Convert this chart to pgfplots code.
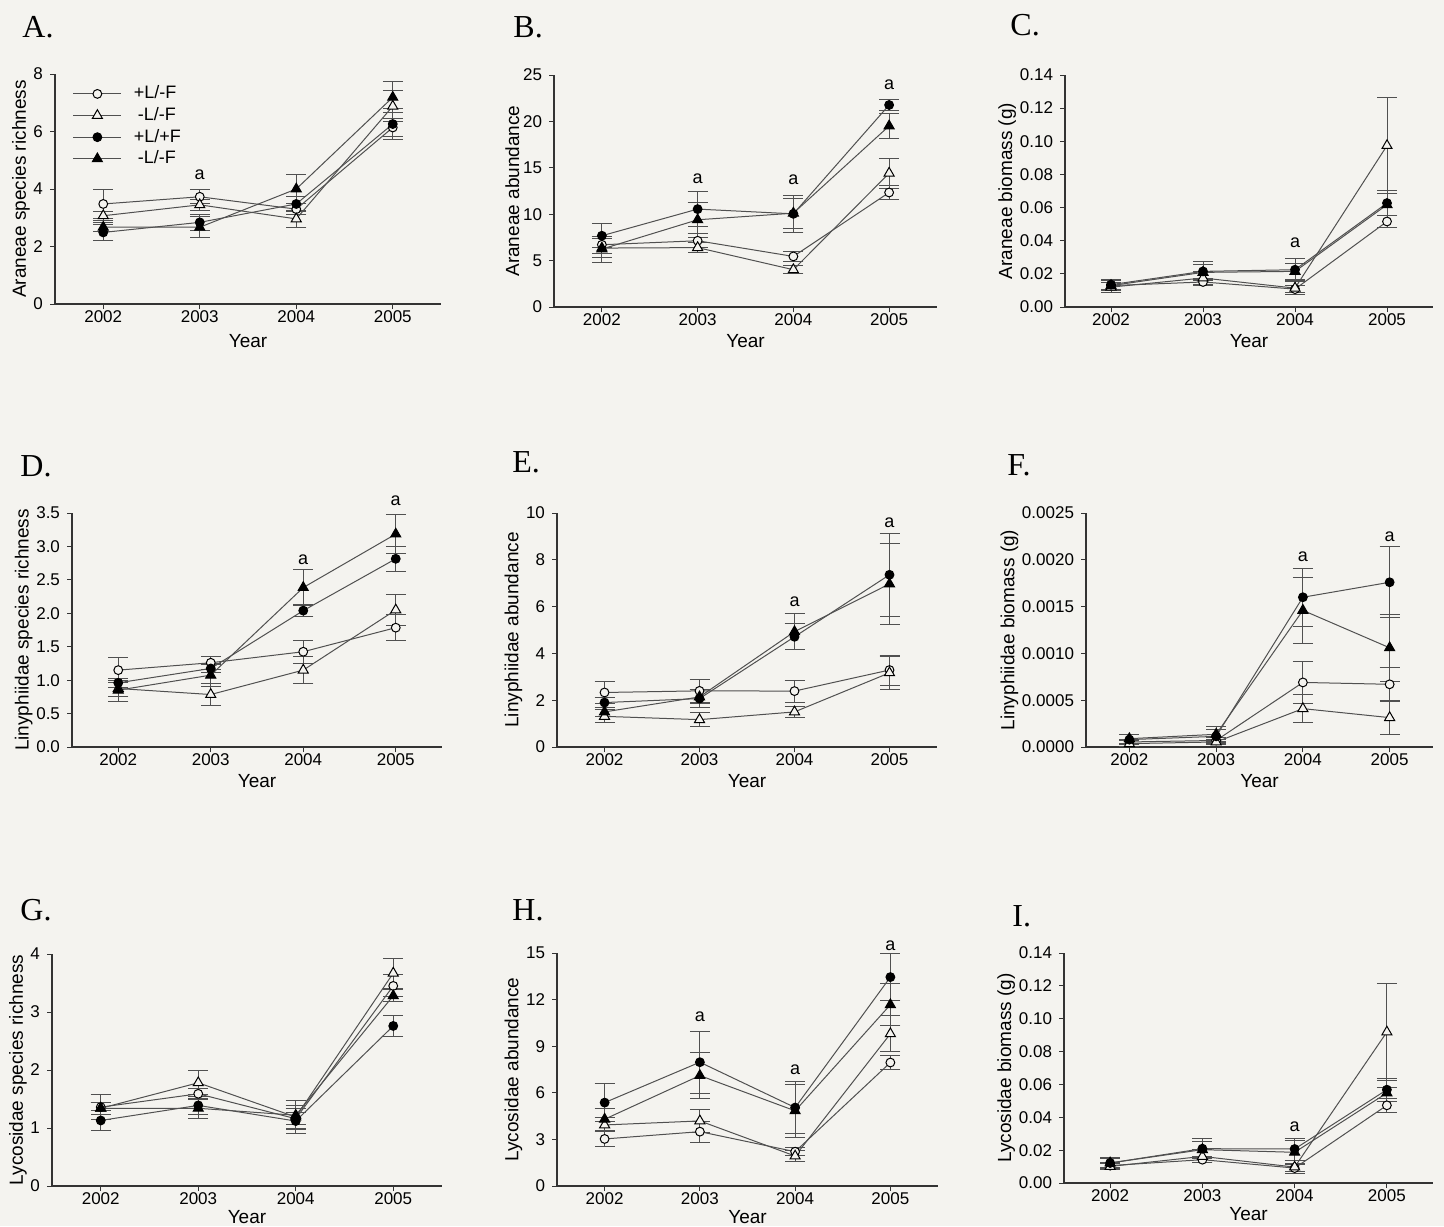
\documentclass[border=0pt]{standalone}
\usepackage{pgfplots}
\pgfplotsset{compat=1.18}
\usepackage{fontspec}
\setmainfont{Liberation Sans}
\newfontfamily\serifpanel{Liberation Serif}
\definecolor{bgc}{RGB}{244,243,239}
\definecolor{linec}{RGB}{80,80,80}
\tikzset{lett/.style={font=\fontsize{9}{10}\selectfont}}
\pgfplotsset{
  panel/.style={
    scale only axis, anchor=south west,
    xmin=2001.5, xmax=2005.5, ymin=0,
    xtick={2002,2003,2004,2005},
    axis x line*=bottom, axis y line*=left,
    axis line style={black!80, line width=0.6pt, -},
    tick align=outside, major tick length=2.5pt,
    tick style={black!80, line width=0.5pt},
    x tick label style={/pgf/number format/1000 sep={}, yshift=2.5pt},
    tick label style={font=\fontsize{8.5}{10}\selectfont},
    label style={font=\fontsize{9.5}{11}\selectfont},
    xlabel={Year},
    xlabel style={at={(axis description cs:0.5,0)}, anchor=center, yshift=-17pt},
    ylabel style={yshift=-5pt},
    /pgf/number format/assume math mode=true,
    scaled y ticks=false,
    clip=false,
    legend image code/.code={\draw[mark repeat=2,mark phase=2] plot coordinates {(0cm,0cm) (0.42cm,0cm) (0.84cm,0cm)};},
  },
  bottomrow/.style={xlabel style={yshift=1.5pt}},
  ebar/.style={line width=0.5pt,
    error bars/y dir=both, error bars/y explicit,
    error bars/error bar style={linec, line width=0.5pt},
    error bars/error mark options={rotate=90, mark size=5pt, linec, line width=0.5pt}},
  s1/.style={ebar, linec, mark=*, mark size=2.2pt, mark options={draw=black, fill=bgc, line width=0.5pt}},
  s2/.style={ebar, linec, mark=triangle*, mark size=2.9pt, mark options={draw=black, fill=bgc, line width=0.5pt}},
  s3/.style={ebar, linec, mark=*, mark size=2.2pt, mark options={draw=black, fill=black}},
  s4/.style={ebar, linec, mark=triangle*, mark size=2.9pt, mark options={draw=black, fill=black}},
}
\begin{document}
\begin{tikzpicture}
\path[fill=bgc] (0,0) rectangle (722pt,-613pt);
% Panel letters
\foreach \l/\x/\y in {A./11pt/-18.5pt, B./256.5pt/-18.5pt, C./505pt/-17.5pt, D./10pt/-238pt, E./256pt/-236pt, F./503.5pt/-237.5pt, G./10pt/-460pt, H./256pt/-460pt, I./506pt/-463pt}
  \node[anchor=base west, inner sep=0pt, font=\serifpanel\fontsize{16}{18}\selectfont] at (\x,\y) {\l};

% A
\begin{axis}[panel, at={(27.5pt,-152pt)}, width=193pt, height=115pt,
  ymax=8, ytick={0,2,4,6,8}, ylabel={Araneae species richness},
  xlabel style={yshift=-1.5pt},
  legend style={draw=none, fill=none, at={(0.03,0.985)}, anchor=north west,
    font=\fontsize{9}{10}\selectfont, row sep=-1.2pt, cells={anchor=west}}]
\addplot[s1] coordinates {(2002,3.48) +- (0,0.5) (2003,3.73) +- (0,0.25) (2004,3.30) +- (0,0.2) (2005,6.14) +- (0,0.3)};
\addlegendentry{\hspace{4pt}+L/-F}
\addplot[s2] coordinates {(2002,3.07) +- (0,0.15) (2003,3.45) +- (0,0.2) (2004,2.96) +- (0,0.3) (2005,6.88) +- (0,0.54)};
\addlegendentry{\hspace{6pt}-L/-F}
\addplot[s3] coordinates {(2002,2.49) +- (0,0.29) (2003,2.84) +- (0,0.27) (2004,3.48) +- (0,0.25) (2005,6.26) +- (0,0.55)};
\addlegendentry{\hspace{4pt}+L/+F}
\addplot[s4] coordinates {(2002,2.67) +- (0,0.15) (2003,2.67) +- (0,0.37) (2004,4.0) +- (0,0.5) (2005,7.19) +- (0,0.54)};
\addlegendentry{\hspace{6pt}-L/-F}
\node[lett] at (axis cs:2003,4.5) {a};
\end{axis}

% B
\begin{axis}[panel, at={(277pt,-153.5pt)}, width=191.5pt, height=116pt,
  ymax=25, ytick={0,5,10,15,20,25}, ylabel={Araneae abundance}]
\addplot[s1] coordinates {(2002,6.71) +- (0,0.9) (2003,7.14) +- (0,0.75) (2004,5.45) +- (0,0.5) (2005,12.34) +- (0,0.8)};
\addplot[s2] coordinates {(2002,6.35) +- (0,1.0) (2003,6.4) +- (0,0.5) (2004,4.02) +- (0,0.43) (2005,14.42) +- (0,1.6)};
\addplot[s3] coordinates {(2002,7.68) +- (0,1.3) (2003,10.55) +- (0,1.9) (2004,10.04) +- (0,2.0) (2005,21.77) +- (0,0.6)};
\addplot[s4] coordinates {(2002,6.24) +- (0,1.4) (2003,9.40) +- (0,1.86) (2004,10.11) +- (0,1.6) (2005,19.51) +- (0,1.3)};
\node[lett] at (axis cs:2003,13.77) {a};
\node[lett] at (axis cs:2004,13.7) {a};
\node[lett] at (axis cs:2005,23.9) {a};
\end{axis}

% C
\begin{axis}[panel, at={(532.5pt,-153.5pt)}, width=184pt, height=116pt,
  ymax=0.14, ytick={0,0.02,0.04,0.06,0.08,0.10,0.12,0.14},
  yticklabel style={/pgf/number format/.cd, fixed, fixed zerofill, precision=2},
  ylabel={Araneae biomass (g)}]
\addplot[s1] coordinates {(2002,0.0129) +- (0,0.003) (2003,0.0151) +- (0,0.0022) (2004,0.0108) +- (0,0.002) (2005,0.0516) +- (0,0.0036)};
\addplot[s2] coordinates {(2002,0.012) +- (0,0.003) (2003,0.0175) +- (0,0.004) (2004,0.0114) +- (0,0.004) (2005,0.0974) +- (0,0.029)};
\addplot[s3] coordinates {(2002,0.0135) +- (0,0.003) (2003,0.0215) +- (0,0.0058) (2004,0.0225) +- (0,0.0065) (2005,0.0627) +- (0,0.0076)};
\addplot[s4] coordinates {(2002,0.0129) +- (0,0.003) (2003,0.0209) +- (0,0.0046) (2004,0.0215) +- (0,0.005) (2005,0.0617) +- (0,0.0066)};
\node[lett] at (axis cs:2004,0.0386) {a};
\end{axis}

% D
\begin{axis}[panel, at={(36pt,-373.5pt)}, width=185pt, height=117pt,
  ymax=3.5, ytick={0,0.5,1,1.5,2,2.5,3,3.5},
  yticklabel style={/pgf/number format/.cd, fixed, fixed zerofill, precision=1},
  ylabel={Linyphiidae species richness}]
\addplot[s1] coordinates {(2002,1.15) +- (0,0.19) (2003,1.26) +- (0,0.1) (2004,1.425) +- (0,0.175) (2005,1.785) +- (0,0.19)};
\addplot[s2] coordinates {(2002,0.875) +- (0,0.12) (2003,0.785) +- (0,0.16) (2004,1.15) +- (0,0.2) (2005,2.05) +- (0,0.235)};
\addplot[s3] coordinates {(2002,0.96) +- (0,0.07) (2003,1.175) +- (0,0.06) (2004,2.04) +- (0,0.09) (2005,2.815) +- (0,0.19)};
\addplot[s4] coordinates {(2002,0.85) +- (0,0.175) (2003,1.075) +- (0,0.17) (2004,2.385) +- (0,0.265) (2005,3.185) +- (0,0.29)};
\node[lett] at (axis cs:2004,2.8) {a};
\node[lett] at (axis cs:2005,3.69) {a};
\end{axis}

% E
\begin{axis}[panel, at={(278.5pt,-373.5pt)}, width=190pt, height=117pt,
  ymax=10, ytick={0,2,4,6,8,10}, ylabel={Linyphiidae abundance}]
\addplot[s1] coordinates {(2002,2.33) +- (0,0.46) (2003,2.4) +- (0,0.5) (2004,2.39) +- (0,0.47) (2005,3.29) +- (0,0.64)};
\addplot[s2] coordinates {(2002,1.31) +- (0,0.28) (2003,1.17) +- (0,0.3) (2004,1.5) +- (0,0.25) (2005,3.17) +- (0,0.7)};
\addplot[s3] coordinates {(2002,1.9) +- (0,0.22) (2003,2.07) +- (0,0.4) (2004,4.71) +- (0,0.55) (2005,7.36) +- (0,1.78)};
\addplot[s4] coordinates {(2002,1.5) +- (0,0.2) (2003,2.14) +- (0,0.3) (2004,4.93) +- (0,0.78) (2005,6.97) +- (0,1.72)};
\node[lett] at (axis cs:2004,6.21) {a};
\node[lett] at (axis cs:2005,9.57) {a};
\end{axis}

% F
\begin{axis}[panel, at={(543pt,-373.5pt)}, width=173.5pt, height=117pt,
  ymax=0.0025, ytick={0,0.0005,0.001,0.0015,0.002,0.0025},
  yticklabel style={/pgf/number format/.cd, fixed, fixed zerofill, precision=4},
  ylabel={Linyphiidae biomass (g)}]
\addplot[s1] coordinates {(2002,0.000054) +- (0,0.00003) (2003,0.00007) +- (0,0.00003) (2004,0.00069) +- (0,0.00022) (2005,0.00067) +- (0,0.00018)};
\addplot[s2] coordinates {(2002,0.000036) +- (0,0.00003) (2003,0.000054) +- (0,0.00003) (2004,0.00041) +- (0,0.00015) (2005,0.000314) +- (0,0.00018)};
\addplot[s3] coordinates {(2002,0.000079) +- (0,0.00005) (2003,0.000114) +- (0,0.00007) (2004,0.0016) +- (0,0.00031) (2005,0.00176) +- (0,0.00038)};
\addplot[s4] coordinates {(2002,0.000089) +- (0,0.00005) (2003,0.000136) +- (0,0.00008) (2004,0.00146) +- (0,0.00035) (2005,0.00106) +- (0,0.00036)};
\node[lett] at (axis cs:2004,0.002036) {a};
\node[lett] at (axis cs:2005,0.00225) {a};
\end{axis}

% G
\begin{axis}[panel, bottomrow, at={(26pt,-593pt)}, width=195pt, height=116pt,
  ymax=4, ytick={0,1,2,3,4}, ylabel={Lycosidae species richness}]
\addplot[s1] coordinates {(2002,1.36) +- (0,0.22) (2003,1.59) +- (0,0.1) (2004,1.16) +- (0,0.1) (2005,3.45) +- (0,0.19)};
\addplot[s2] coordinates {(2002,1.34) +- (0,0.1) (2003,1.78) +- (0,0.21) (2004,1.19) +- (0,0.2) (2005,3.67) +- (0,0.26)};
\addplot[s3] coordinates {(2002,1.13) +- (0,0.17) (2003,1.39) +- (0,0.15) (2004,1.12) +- (0,0.22) (2005,2.76) +- (0,0.18)};
\addplot[s4] coordinates {(2002,1.34) +- (0,0.1) (2003,1.34) +- (0,0.17) (2004,1.22) +- (0,0.25) (2005,3.28) +- (0,0.1)};
\end{axis}

% H
\begin{axis}[panel, bottomrow, at={(278.5pt,-593pt)}, width=190.5pt, height=116.5pt,
  ymax=15, ytick={0,3,6,9,12,15}, ylabel={Lycosidae abundance}]
\addplot[s1] coordinates {(2002,3.03) +- (0,0.5) (2003,3.5) +- (0,0.68) (2004,2.21) +- (0,0.25) (2005,7.95) +- (0,0.47)};
\addplot[s2] coordinates {(2002,3.93) +- (0,0.45) (2003,4.19) +- (0,0.75) (2004,1.93) +- (0,0.36) (2005,9.8) +- (0,1.16)};
\addplot[s3] coordinates {(2002,5.37) +- (0,1.2) (2003,7.97) +- (0,2.0) (2004,5.05) +- (0,1.65) (2005,13.45) +- (0,1.5)};
\addplot[s4] coordinates {(2002,4.30) +- (0,0.7) (2003,7.11) +- (0,1.5) (2004,4.84) +- (0,1.7) (2005,11.67) +- (0,1.35)};
\node[lett] at (axis cs:2003,10.9) {a};
\node[lett] at (axis cs:2004,7.48) {a};
\node[lett] at (axis cs:2005,15.5) {a};
\end{axis}

% I
\begin{axis}[panel, bottomrow, at={(532pt,-591.5pt)}, width=184.5pt, height=115pt,
  ymax=0.14, ytick={0,0.02,0.04,0.06,0.08,0.10,0.12,0.14},
  yticklabel style={/pgf/number format/.cd, fixed, fixed zerofill, precision=2},
  ylabel={Lycosidae biomass (g)}]
\addplot[s1] coordinates {(2002,0.0106) +- (0,0.002) (2003,0.0142) +- (0,0.002) (2004,0.0091) +- (0,0.002) (2005,0.0473) +- (0,0.0043)};
\addplot[s2] coordinates {(2002,0.0101) +- (0,0.002) (2003,0.0162) +- (0,0.004) (2004,0.0097) +- (0,0.004) (2005,0.0919) +- (0,0.0298)};
\addplot[s3] coordinates {(2002,0.0122) +- (0,0.0034) (2003,0.0209) +- (0,0.0059) (2004,0.0207) +- (0,0.0067) (2005,0.0568) +- (0,0.0071)};
\addplot[s4] coordinates {(2002,0.0122) +- (0,0.003) (2003,0.0203) +- (0,0.005) (2004,0.0187) +- (0,0.007) (2005,0.0548) +- (0,0.0036)};
\node[lett] at (axis cs:2004,0.0345) {a};
\end{axis}

\pgfresetboundingbox
\useasboundingbox (0,0) rectangle (722pt,-613pt);
\end{tikzpicture}
\end{document}
